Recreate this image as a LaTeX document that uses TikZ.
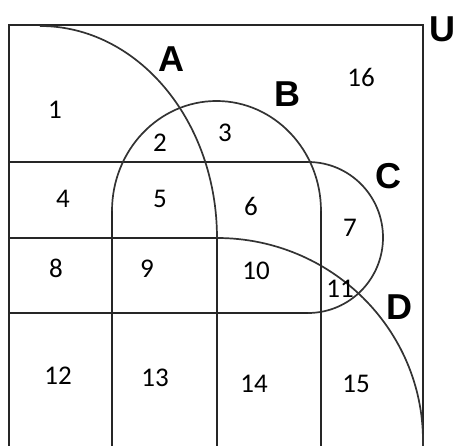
\documentclass[tikz,border=0pt]{standalone}
\usepackage{fontspec}
\setmainfont{Carlito}
\newfontfamily\lettersf{Liberation Sans}
\begin{document}
\begin{tikzpicture}[x=1pt,y=-1pt,
  frame/.style={draw=black!85, line width=2.5pt},
  curve/.style={draw=black!80, line width=1.7pt},
  num/.style={font=\fontsize{27}{27}\selectfont, inner sep=0pt, text=black},
  setlabel/.style={font=\lettersf\bfseries\fontsize{36}{36}\selectfont, inner sep=0pt, text=black}]
\useasboundingbox (0,0) rectangle (456,446);
\begin{scope}
\clip (0,0) rectangle (456,446);
% universe frame
\draw[frame] (9,470) -- (9,25) -- (423,25) -- (423,470);
% C horizontal parts
\draw[frame] (9,162) -- (308,162);
\draw[frame] (9,313) -- (308,313);
\draw[curve] (308,162) arc[start angle=-90, end angle=90, x radius=75, y radius=75.5];
% D horizontal part and arc
\draw[frame] (9,238) -- (217,238);
\draw[curve] (217,238) arc[start angle=-90, end angle=0, x radius=206, y radius=203];
\draw[curve] (423,441) -- (423,470);
% B
\draw[frame] (112,470) -- (112,211);
\draw[frame] (321,470) -- (321,211);
\draw[curve] (112,211) arc[start angle=180, end angle=360, x radius=104.5, y radius=110];
% A
\draw[curve] (40,26) arc[start angle=-90, end angle=0, x radius=177, y radius=212];
\draw[frame] (217,238) -- (217,470);
\end{scope}
% set labels
\node[setlabel] (lA) at (171,59) {A};
\node[setlabel] (lB) at (287,94) {B};
\node[setlabel] (lC) at (388,176) {C};
\node[setlabel] (lD) at (399,307) {D};
\node[setlabel] (lU) at (442,29) {U};
% region numbers
\node[num] (r1) at (55,110) {1};
\node[num] (r2) at (160,143) {2};
\node[num] (r3) at (225,133) {3};
\node[num] (r4) at (63,199) {4};
\node[num] (r5) at (160,199) {5};
\node[num] (r6) at (251,206) {6};
\node[num] (r7) at (350,228) {7};
\node[num] (r8) at (56,268) {8};
\node[num] (r9) at (147,269) {9};
\node[num] (r10) at (256,271) {10};
\node[num] (r11) at (340,289) {11};
\node[num] (r12) at (58,376) {12};
\node[num] (r13) at (155,378) {13};
\node[num] (r14) at (254,384) {14};
\node[num] (r15) at (356,384) {15};
\node[num] (r16) at (361,77) {16};
\end{tikzpicture}
\end{document}
